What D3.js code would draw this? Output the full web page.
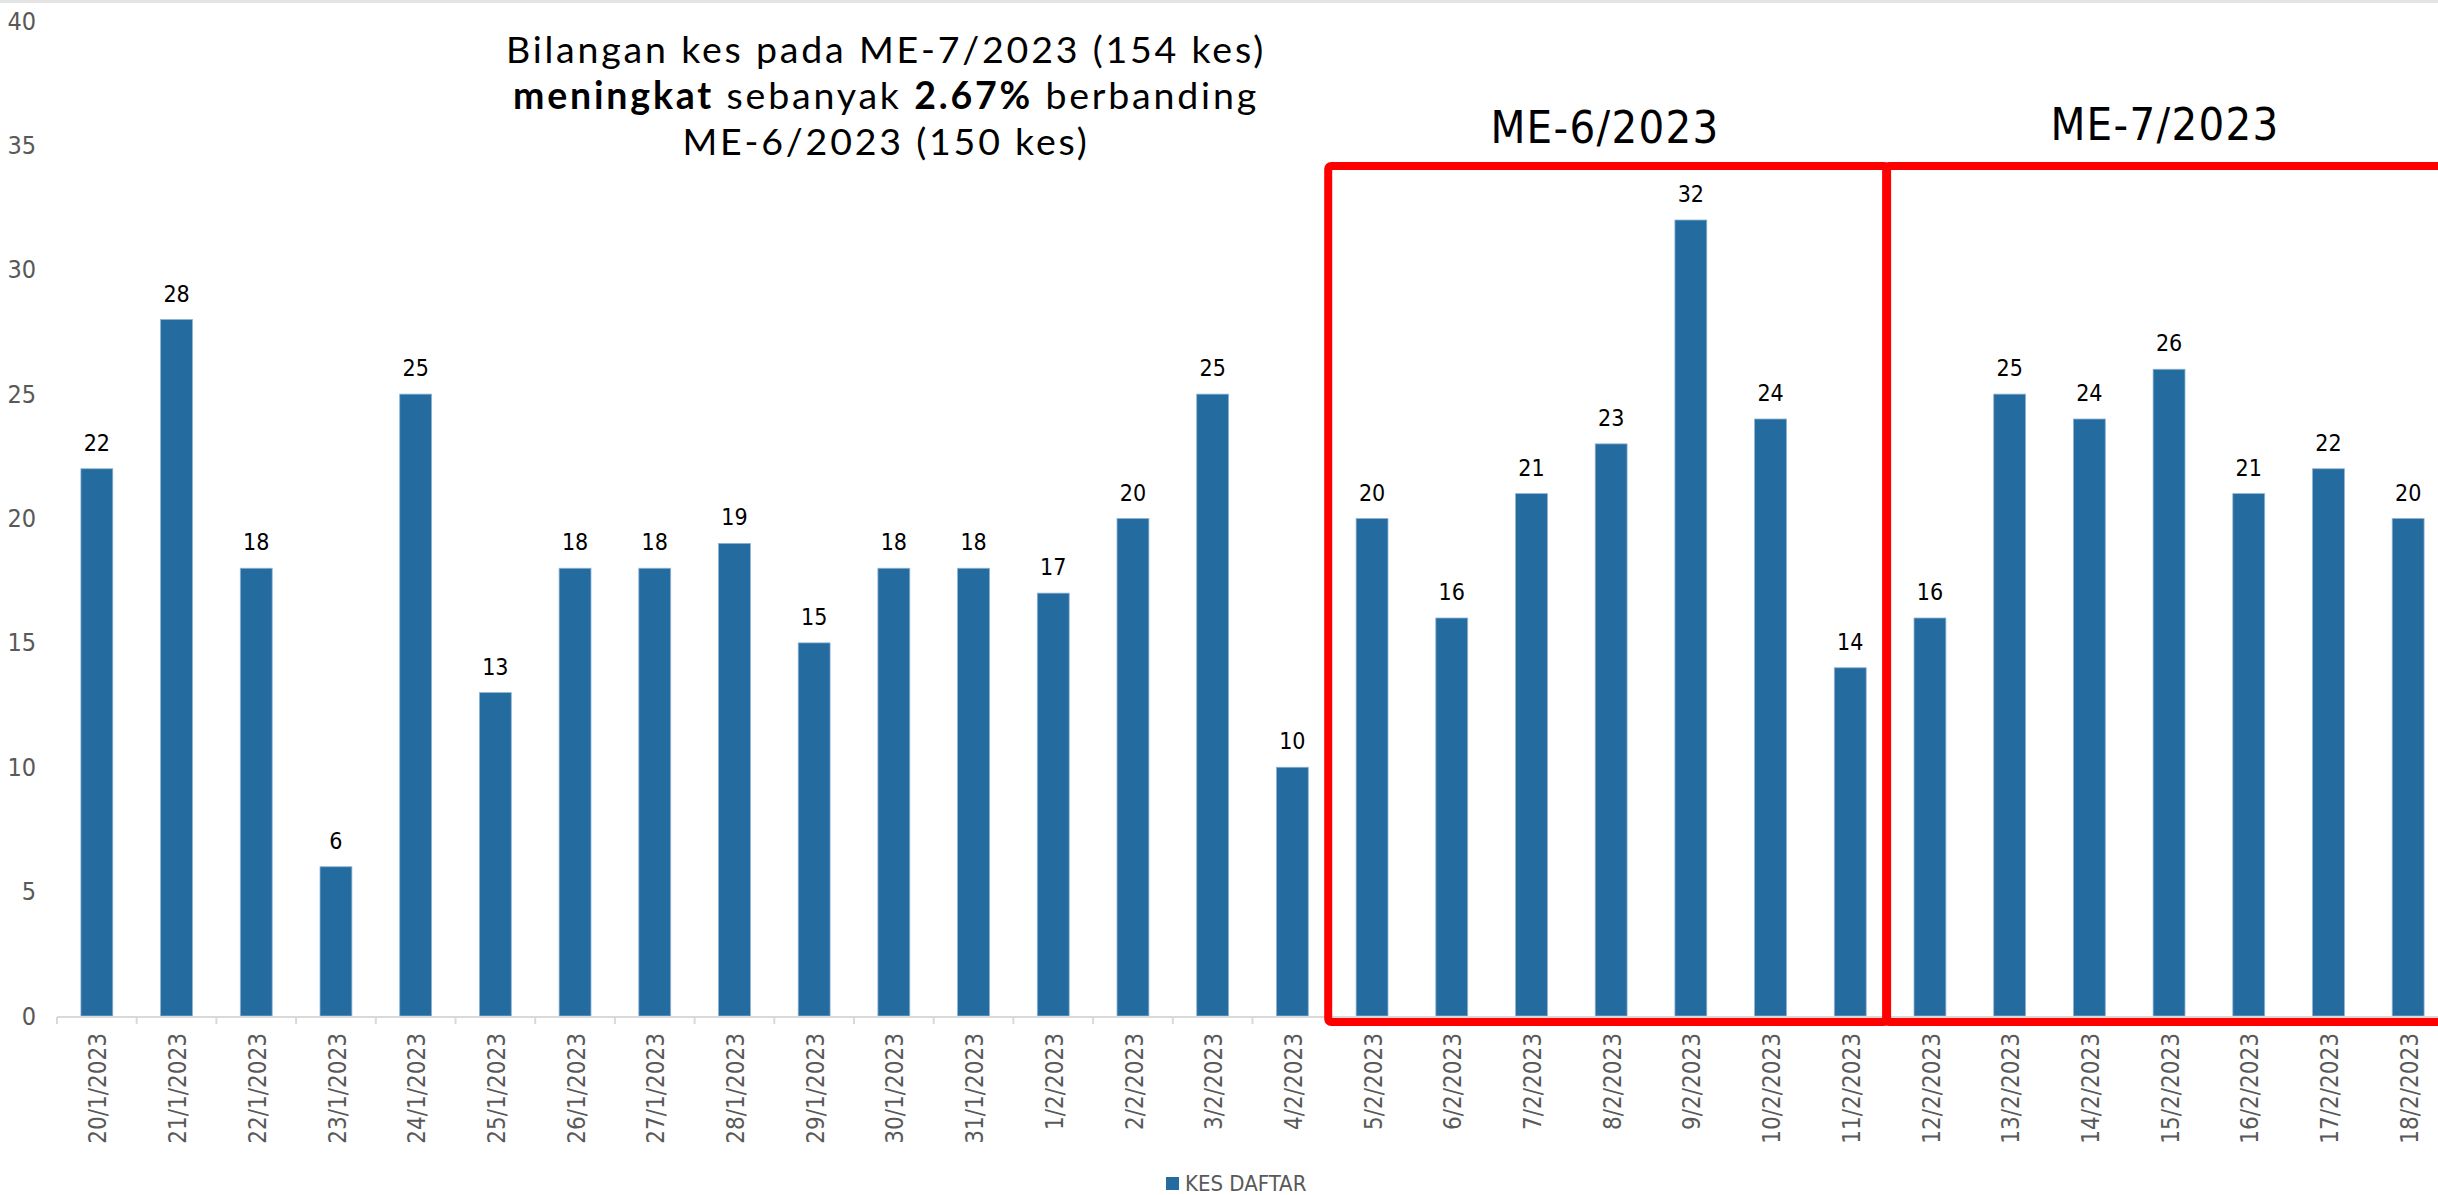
<!DOCTYPE html>
<html>
<head>
<meta charset="utf-8">
<script src="https://cdn.jsdelivr.net/npm/d3@7"></script>
<style>
  html, body { margin: 0; padding: 0; background: #fff; }
  svg { display: block; }
</style>
</head>
<body>
<svg id="chart" width="2438" height="1195"></svg>
<script>
// ---- data ----
const categories = ["20/1/2023","21/1/2023","22/1/2023","23/1/2023","24/1/2023","25/1/2023","26/1/2023","27/1/2023","28/1/2023","29/1/2023","30/1/2023","31/1/2023","1/2/2023","2/2/2023","3/2/2023","4/2/2023","5/2/2023","6/2/2023","7/2/2023","8/2/2023","9/2/2023","10/2/2023","11/2/2023","12/2/2023","13/2/2023","14/2/2023","15/2/2023","16/2/2023","17/2/2023","18/2/2023"];
const kesDaftar = [22,28,18,6,25,13,18,18,19,15,18,18,17,20,25,10,20,16,21,23,32,24,14,16,25,24,26,21,22,20];
const yTicks = [0,5,10,15,20,25,30,35,40];
const seriesName = "KES DAFTAR";
const periodLabels = ["ME-6/2023","ME-7/2023"];
const periodStart = ["5/2/2023","12/2/2023"];
const periodEnd = ["11/2/2023","18/2/2023"];
const titleLines = [
  [{t:"Bilangan kes pada ME-7/2023 (154 kes)", b:false}],
  [{t:"meningkat", b:true},{t:" sebanyak ", b:false},{t:"2.67%", b:true},{t:" berbanding", b:false}],
  [{t:"ME-6/2023 (150 kes)", b:false}]
];

// ---- layout ----
const svg = d3.select("#chart");
const x0 = 57, step = 79.7;
const x = d3.scaleBand().domain(categories).range([x0, x0 + step * categories.length]).padding(0);
const y = d3.scaleLinear().domain([0, 40]).range([1016, 21]);
const barW = x.bandwidth() * 0.4;
const barColor = "#246ba0";
const gray = "#595959";
const labelFont = "'DejaVu Sans Condensed', 'DejaVu Sans', sans-serif";

// top shadow line
svg.append("rect").attr("x",0).attr("y",0).attr("width",2438).attr("height",3).attr("fill","#e4e4e4");

// y axis labels
const yAxis = d3.axisLeft(y).tickValues(yTicks).tickSize(0).tickPadding(0);
const gy = svg.append("g").attr("transform","translate(36,0)").call(yAxis);
gy.select(".domain").remove();
gy.selectAll("text").attr("fill", gray).style("font-family", labelFont).style("font-size","25px");

// bars
svg.append("g").selectAll("rect").data(categories).join("rect")
  .attr("x", d => x(d) + (x.bandwidth() - barW) / 2)
  .attr("y", (d,i) => y(kesDaftar[i]))
  .attr("width", barW)
  .attr("height", (d,i) => y(0) - y(kesDaftar[i]))
  .attr("fill", barColor)
  .attr("stroke", "#8fb3d3").attr("stroke-width", 0.8);

// x axis line and ticks
const axisG = svg.append("g");
axisG.append("line").attr("x1", x0).attr("x2", 2438).attr("y1", y(0)+1).attr("y2", y(0)+1)
  .attr("stroke","#d9d9d9").attr("stroke-width",2);
axisG.selectAll("line.tick").data(categories.concat(["_end"])).join("line").attr("class","tick")
  .attr("x1", (d,i) => x0 + i*step).attr("x2", (d,i) => x0 + i*step)
  .attr("y1", y(0)+1).attr("y2", y(0)+8)
  .attr("stroke","#d9d9d9").attr("stroke-width",2);

// x labels
svg.append("g").selectAll("text").data(categories).join("text")
  .attr("transform", d => `translate(${x(d) + x.bandwidth()/2 + 1},1033) rotate(-90)`)
  .attr("text-anchor","end").attr("dy","0.36em")
  .attr("fill", gray).style("font-family", labelFont).style("font-size","24px")
  .text(d => d);

// data labels
svg.append("g").selectAll("text").data(categories).join("text")
  .attr("x", d => x(d) + x.bandwidth()/2)
  .attr("y", (d,i) => y(kesDaftar[i]) - 18)
  .attr("text-anchor","middle")
  .attr("fill","#000").style("font-family", labelFont).style("font-size","23px")
  .text((d,i) => kesDaftar[i]);

// period boxes
const boxTop = 166, boxBottom = y(0) + 6;
periodLabels.forEach((lab, k) => {
  const left = x(periodStart[k]) - 4;
  const right = k === periodLabels.length - 1 ? 2446 : x(periodEnd[k]) + x.bandwidth() - 3;
  svg.append("rect").attr("x", left).attr("y", boxTop)
    .attr("width", right - left).attr("height", boxBottom - boxTop)
    .attr("rx", 3)
    .attr("fill","none").attr("stroke","#ff0000").attr("stroke-width",8);
});
const labelCenters = [1605, 2165];
const labelBase = [143, 140];
periodLabels.forEach((lab, k) => {
  svg.append("text").attr("x", labelCenters[k]).attr("y", labelBase[k])
    .attr("text-anchor","middle").attr("fill","#000")
    .style("font-family", labelFont).style("font-size","45px")
    .style("letter-spacing","1.3px")
    .text(lab);
});

// title (one multi-line text block)
const titleFont = "Lato, 'Open Sans', sans-serif";
const baselines = [63, 109, 155];
const fs = 37.5;
const tmp = svg.append("text").style("font-family", titleFont).style("font-size", fs+"px").text(titleLines[0][0].t);
const w = tmp.node().getComputedTextLength();
tmp.remove();
const nChars = titleLines[0][0].t.length;
const ls = Math.max(0, (760 - w) / nChars);
const title = svg.append("text").attr("text-anchor","middle").attr("fill","#000")
  .style("font-family", titleFont).style("font-size", fs + "px")
  .style("letter-spacing", ls + "px");
titleLines.forEach((line, i) => {
  const lineSpan = title.append("tspan").attr("x", 886).attr("y", baselines[i]);
  line.forEach(seg => lineSpan.append("tspan").attr("font-weight", seg.b ? "bold" : "normal").text(seg.t));
});

// legend
const lg = svg.append("g");
lg.append("rect").attr("x",1166).attr("y",1177).attr("width",13).attr("height",13).attr("fill",barColor);
lg.append("text").attr("x",1185).attr("y",1191).attr("fill",gray)
  .style("font-family", labelFont).style("font-size","22px").text(seriesName);
</script>
</body>
</html>
